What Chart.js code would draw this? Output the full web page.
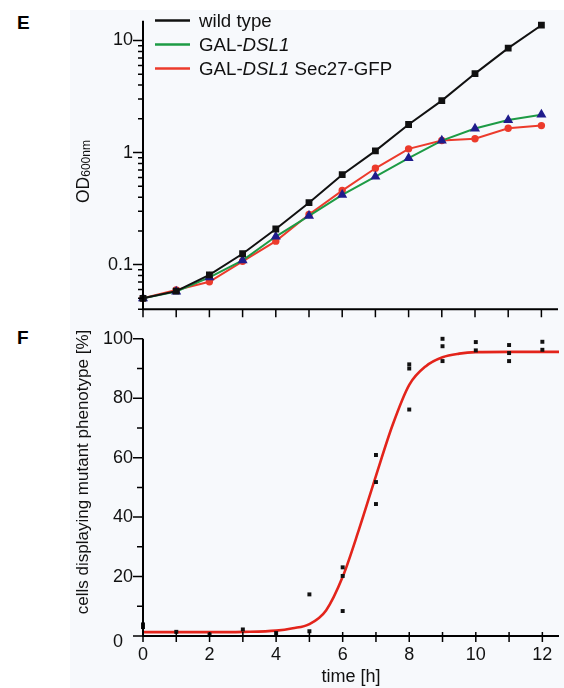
<!DOCTYPE html>
<html>
<head>
<meta charset="utf-8">
<script src="https://cdn.jsdelivr.net/npm/chart.js@4.4.1/dist/chart.umd.min.js"></script>
<style>
  html, body { margin: 0; padding: 0; background: #fff; }
  #fig { position: relative; width: 564px; height: 688px; overflow: hidden; font-family: "Liberation Sans", Arial, sans-serif; }
  #panel { position: absolute; left: 70px; top: 10px; width: 494px; height: 678px; background: #f7f9fc; }
  .tag { position: absolute; font-weight: bold; font-size: 19px; color: #000; }
  .box { position: absolute; left: 0; width: 564px; }
</style>
</head>
<body>
<div id="fig">
  <div id="panel"></div>
  <div class="tag" style="left:17px;top:12px">E</div>
  <div class="tag" style="left:17px;top:327px">F</div>
  <div class="box" style="top:0;height:330px"><canvas id="chart-e"></canvas></div>
  <div class="box" style="top:318px;height:370px"><canvas id="chart-f"></canvas></div>
</div>
<script>
// Panel E: growth curves (OD600, log scale)
const hours = [0, 1, 2, 3, 4, 5, 6, 7, 8, 9, 10, 11, 12];
const odWildType = [0.050, 0.058, 0.081, 0.125, 0.208, 0.357, 0.635, 1.035, 1.78, 2.91, 5.07, 8.55, 13.7];
const odGalDsl1 = [0.050, 0.0574, 0.077, 0.109, 0.178, 0.272, 0.42, 0.61, 0.893, 1.28, 1.64, 1.95, 2.18];
const odGalDsl1Sec27 = [0.050, 0.0593, 0.0703, 0.107, 0.162, 0.28, 0.458, 0.724, 1.08, 1.28, 1.33, 1.65, 1.74];
const odTickLabels = [0.1, 1, 10];

// Panel F: cells with mutant phenotype + fitted curve
const mutantHours = [0, 0, 1, 2, 3, 4, 5, 5, 6, 6, 6, 7, 7, 7, 8, 8, 8, 9, 9, 9, 10, 10, 11, 11, 11, 12, 12];
const mutantPercent = [3.9, 3.0, 1.4, 0.5, 2.2, 1.0, 14.0, 1.6, 23.1, 20.2, 8.4, 60.9, 51.8, 44.4, 91.4, 90.0, 76.2,
  100, 97.5, 92.5, 98.9, 96.1, 97.9, 95.2, 92.5, 99.0, 96.3];
const fitHours = [0, 1, 2, 3, 4, 4.5, 5, 5.5, 6, 6.5, 7, 7.5, 8, 8.5, 9, 9.5, 10, 11, 12, 12.5];
const fitPercent = [1.3, 1.3, 1.3, 1.4, 1.8, 2.6, 4.0, 8.6, 19.9, 36.2, 53.9, 71.0, 84.5, 90.8, 93.8, 95.0, 95.5, 95.6, 95.6, 95.6];
const percentTickLabels = [20, 40, 60, 80, 100];
const timeTickLabels = [0, 2, 4, 6, 8, 10, 12];
const timeTicks = [0, 1, 2, 3, 4, 5, 6, 7, 8, 9, 10, 11, 12];

const FONT = '"Liberation Sans", Arial, sans-serif';
const toPoints = (xs, ys) => xs.map((x, i) => ({ x, y: ys[i] }));

Chart.defaults.font.family = FONT;
Chart.defaults.color = '#111';

function drawAxes(chart, yTicks, xTickUp, xTickDown) {
  const { ctx, chartArea: a, scales: { x, y } } = chart;
  ctx.save();
  ctx.strokeStyle = '#000';
  ctx.lineWidth = 2;
  ctx.beginPath();
  ctx.moveTo(a.left, a.top);
  ctx.lineTo(a.left, a.bottom + 1);
  ctx.moveTo(a.left - 1, a.bottom);
  ctx.lineTo(a.right, a.bottom);
  ctx.stroke();
  ctx.lineWidth = 1.5;
  ctx.beginPath();
  yTicks.forEach(t => {
    const py = y.getPixelForValue(t.v);
    ctx.moveTo(a.left, py);
    ctx.lineTo(a.left - t.len, py);
  });
  timeTicks.forEach(v => {
    const px = x.getPixelForValue(v);
    ctx.moveTo(px, a.bottom - xTickUp);
    ctx.lineTo(px, a.bottom + xTickDown);
  });
  ctx.stroke();
  ctx.restore();
}

const decoE = {
  id: 'decoE',
  afterDraw(chart) {
    const { ctx } = chart;
    const yTicks = [];
    [0.01, 0.1, 1, 10].forEach(dec => {
      for (let k = 1; k <= 9; k++) {
        const v = dec * k;
        if (v < 0.04 || v > 15) continue;
        yTicks.push({ v, len: k === 1 ? 10 : 5 });
      }
    });
    drawAxes(chart, yTicks, 0, 8);

    // legend
    const items = [
      { color: '#111', parts: [['wild type', false]] },
      { color: '#1d9b45', parts: [['GAL-', false], ['DSL1', true]] },
      { color: '#ec3b2c', parts: [['GAL-', false], ['DSL1', true], [' Sec27-GFP', false]] }
    ];
    ctx.save();
    ctx.fillStyle = '#111';
    ctx.textBaseline = 'alphabetic';
    items.forEach((it, i) => {
      const ly = 20.5 + i * 24;
      ctx.strokeStyle = it.color;
      ctx.lineWidth = 2.5;
      ctx.beginPath();
      ctx.moveTo(155, ly);
      ctx.lineTo(190, ly);
      ctx.stroke();
      let tx = 199;
      it.parts.forEach(([txt, ital]) => {
        ctx.font = (ital ? 'italic ' : '') + '18.7px ' + FONT;
        ctx.fillText(txt, tx, ly + 6.8);
        tx += ctx.measureText(txt).width;
      });
    });

    // y title OD600nm
    ctx.translate(89, 203);
    ctx.rotate(-Math.PI / 2);
    ctx.font = '17.5px ' + FONT;
    ctx.fillText('OD', 0, 0);
    const w = ctx.measureText('OD').width;
    ctx.font = '12px ' + FONT;
    ctx.fillText('600nm', w, 1);
    ctx.restore();
  }
};

const decoF = {
  id: 'decoF',
  afterDraw(chart) {
    const { ctx, chartArea: a, scales: { y } } = chart;
    const yTicks = [];
    for (let v = 0; v <= 100; v += 10) yTicks.push({ v, len: v % 20 === 0 ? 10 : 6 });
    drawAxes(chart, yTicks, 4, 6);

    ctx.save();
    ctx.fillStyle = '#111';
    ctx.font = '18px ' + FONT;
    ctx.textAlign = 'center';
    ctx.textBaseline = 'middle';
    ctx.fillText('0', 118, y.getPixelForValue(0) + 6);
    ctx.fillText('time [h]', (a.left + a.right) / 2, 359);
    ctx.font = '17px ' + FONT;
    ctx.translate(83, 154);
    ctx.rotate(-Math.PI / 2);
    ctx.fillText('cells displaying mutant phenotype [%]', 0, 0);
    ctx.restore();
  }
};

const baseOptions = {
  responsive: true,
  maintainAspectRatio: false,
  animation: false,
  events: [],
  plugins: { legend: { display: false }, tooltip: { enabled: false } }
};

const hiddenGrid = { display: false, drawTicks: false, tickLength: 0 };

new Chart(document.getElementById('chart-e'), {
  type: 'line',
  data: {
    datasets: [
      {
        label: 'wild type',
        data: toPoints(hours, odWildType),
        borderColor: '#111', backgroundColor: '#111',
        borderWidth: 2, pointStyle: 'rect', pointRadius: 3.4,
        clip: false
      },
      {
        label: 'GAL-DSL1',
        data: toPoints(hours, odGalDsl1),
        borderColor: '#1d9b45', backgroundColor: '#1f1c8c', pointBorderColor: '#1f1c8c',
        borderWidth: 2, pointStyle: 'triangle', pointRadius: 3.8,
        clip: false
      },
      {
        label: 'GAL-DSL1 Sec27-GFP',
        data: toPoints(hours, odGalDsl1Sec27),
        borderColor: '#ec3b2c', backgroundColor: '#ec3b2c',
        borderWidth: 2, pointStyle: 'circle', pointRadius: 2.7,
        clip: false
      }
    ]
  },
  options: {
    ...baseOptions,
    layout: { padding: { top: 10, right: 5, left: 0, bottom: 0 } },
    scales: {
      x: {
        type: 'linear', min: 0, max: 12.5,
        grid: hiddenGrid, border: { display: false },
        ticks: { display: false },
        afterFit: s => { s.height = 18; }
      },
      y: {
        type: 'logarithmic', min: 0.04, max: 15,
        grid: hiddenGrid, border: { display: false },
        afterBuildTicks: s => { s.ticks = odTickLabels.map(v => ({ value: v })); },
        ticks: { autoSkip: false, padding: 10, font: { size: 18 }, color: '#111', callback: v => String(v) },
        afterFit: s => { s.width = 143; }
      }
    }
  },
  plugins: [decoE]
});

new Chart(document.getElementById('chart-f'), {
  type: 'scatter',
  data: {
    datasets: [
      {
        label: 'cells',
        data: toPoints(mutantHours, mutantPercent),
        backgroundColor: '#111', borderColor: '#111',
        pointStyle: 'rect', pointRadius: 2.8, borderWidth: 0,
        clip: false
      },
      {
        label: 'fit',
        data: toPoints(fitHours, fitPercent),
        showLine: true, borderColor: '#e3241b', borderWidth: 2.6,
        pointRadius: 0, cubicInterpolationMode: 'monotone',
        clip: false
      }
    ]
  },
  options: {
    ...baseOptions,
    layout: { padding: { top: 16, right: 5, left: 0, bottom: 0 } },
    scales: {
      x: {
        type: 'linear', min: 0, max: 12.5,
        grid: hiddenGrid, border: { display: false },
        afterBuildTicks: s => { s.ticks = timeTickLabels.map(v => ({ value: v })); },
        ticks: { autoSkip: false, maxRotation: 0, padding: 8, font: { size: 18 }, color: '#111' },
        afterFit: s => { s.height = 52; }
      },
      y: {
        type: 'linear', min: 0, max: 100,
        grid: hiddenGrid, border: { display: false },
        afterBuildTicks: s => { s.ticks = percentTickLabels.map(v => ({ value: v })); },
        ticks: { autoSkip: false, padding: 10, font: { size: 18 }, color: '#111' },
        afterFit: s => { s.width = 143; }
      }
    }
  },
  plugins: [decoF]
});
</script>
</body>
</html>
